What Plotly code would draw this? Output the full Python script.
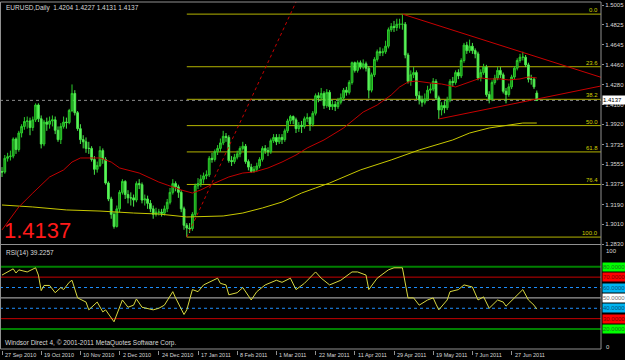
import plotly.graph_objects as go

W, H = 625, 360

# ---------------- data ----------------
opens = [
1.3490, 1.3485, 1.3610, 1.3625, 1.3630, 1.3785, 1.3690, 1.3840, 1.3900, 1.3945,
1.3950, 1.3890, 1.3960, 1.4095, 1.3970, 1.3740, 1.3940, 1.3920, 1.3950, 1.3960,
1.3865, 1.3780, 1.3900, 1.3940, 1.3935, 1.4045, 1.4200, 1.4025, 1.3880, 1.3780,
1.3760, 1.3700, 1.3700, 1.3600, 1.3510, 1.3545, 1.3680, 1.3600, 1.3385, 1.3240,
1.3100, 1.2990, 1.3150, 1.3300, 1.3400, 1.3280, 1.3250, 1.3250, 1.3230, 1.3380,
1.3370, 1.3230, 1.3240, 1.3200, 1.3150, 1.3100, 1.3120, 1.3120, 1.3110, 1.3150,
1.3210, 1.3300, 1.3380, 1.3350, 1.3300, 1.3150, 1.3000, 1.2975, 1.2970, 1.3100,
1.3360, 1.3380, 1.3420, 1.3450, 1.3460, 1.3610, 1.3600, 1.3670, 1.3700, 1.3750,
1.3810, 1.3800, 1.3590, 1.3580, 1.3620, 1.3650, 1.3700, 1.3720, 1.3580, 1.3530,
1.3490, 1.3510, 1.3540, 1.3600, 1.3700, 1.3680, 1.3670, 1.3770, 1.3800, 1.3760,
1.3800, 1.3780, 1.3860, 1.3950, 1.3990, 1.3960, 1.3880, 1.3910, 1.3900, 1.3970,
1.3980, 1.3920, 1.4020, 1.4180, 1.4160, 1.4200, 1.4090, 1.4210, 1.4080, 1.4100,
1.4080, 1.4120, 1.4160, 1.4230, 1.4210, 1.4300, 1.4480, 1.4410, 1.4480, 1.4440,
1.4470, 1.4430, 1.4230, 1.4370, 1.4510, 1.4580, 1.4570, 1.4580, 1.4630, 1.4780,
1.4810, 1.4800, 1.4830, 1.4830, 1.4830, 1.4550, 1.4310, 1.4370, 1.4390, 1.4180,
1.4140, 1.4120, 1.4150, 1.4230, 1.4240, 1.4310, 1.4160, 1.4050, 1.4090, 1.4070,
1.4140, 1.4310, 1.4300, 1.4390, 1.4360, 1.4500, 1.4640, 1.4590, 1.4630, 1.4590,
1.4560, 1.4340, 1.4390, 1.4440, 1.4190, 1.4150, 1.4300, 1.4340, 1.4410, 1.4370,
1.4220, 1.4190, 1.4260, 1.4350, 1.4430, 1.4500, 1.4530, 1.4530, 1.4460, 1.4330,
1.4330, 1.4204]

highs = [
1.3530, 1.3640, 1.3660, 1.3680, 1.3800, 1.3800, 1.3860, 1.3920, 1.3985, 1.3990,
1.3980, 1.3990, 1.4110, 1.4110, 1.4000, 1.3960, 1.3980, 1.3990, 1.4000, 1.3990,
1.3900, 1.3930, 1.3990, 1.3980, 1.4060, 1.4282, 1.4230, 1.4040, 1.3920, 1.3820,
1.3800, 1.3760, 1.3720, 1.3630, 1.3580, 1.3720, 1.3700, 1.3620, 1.3400, 1.3260,
1.3120, 1.3180, 1.3320, 1.3420, 1.3410, 1.3320, 1.3300, 1.3280, 1.3400, 1.3420,
1.3390, 1.3280, 1.3270, 1.3230, 1.3180, 1.3160, 1.3150, 1.3150, 1.3180, 1.3240,
1.3340, 1.3420, 1.3400, 1.3370, 1.3320, 1.3170, 1.3020, 1.3020, 1.3120, 1.3380,
1.3430, 1.3460, 1.3480, 1.3500, 1.3630, 1.3660, 1.3690, 1.3730, 1.3790, 1.3860,
1.3840, 1.3820, 1.3630, 1.3650, 1.3680, 1.3720, 1.3760, 1.3740, 1.3600, 1.3560,
1.3540, 1.3570, 1.3620, 1.3720, 1.3730, 1.3710, 1.3790, 1.3830, 1.3830, 1.3830,
1.3830, 1.3880, 1.3970, 1.4005, 1.4000, 1.3980, 1.3940, 1.3950, 1.3990, 1.4020,
1.3990, 1.4040, 1.4200, 1.4210, 1.4250, 1.4220, 1.4240, 1.4230, 1.4140, 1.4130,
1.4160, 1.4200, 1.4250, 1.4260, 1.4320, 1.4490, 1.4490, 1.4500, 1.4500, 1.4510,
1.4490, 1.4450, 1.4390, 1.4530, 1.4600, 1.4620, 1.4610, 1.4680, 1.4800, 1.4840,
1.4860, 1.4880, 1.4880, 1.4922, 1.4850, 1.4570, 1.4410, 1.4440, 1.4410, 1.4220,
1.4180, 1.4200, 1.4270, 1.4290, 1.4340, 1.4330, 1.4180, 1.4120, 1.4130, 1.4170,
1.4330, 1.4350, 1.4410, 1.4420, 1.4520, 1.4660, 1.4670, 1.4690, 1.4660, 1.4610,
1.4580, 1.4420, 1.4470, 1.4460, 1.4220, 1.4320, 1.4370, 1.4440, 1.4440, 1.4390,
1.4250, 1.4290, 1.4370, 1.4450, 1.4520, 1.4560, 1.4580, 1.4550, 1.4480, 1.4370,
1.4350, 1.4227]

lows = [
1.3440, 1.3470, 1.3580, 1.3590, 1.3610, 1.3650, 1.3670, 1.3800, 1.3870, 1.3880,
1.3820, 1.3860, 1.3940, 1.3940, 1.3700, 1.3720, 1.3860, 1.3880, 1.3900, 1.3830,
1.3760, 1.3740, 1.3880, 1.3880, 1.3920, 1.4030, 1.4000, 1.3860, 1.3740, 1.3700,
1.3660, 1.3650, 1.3580, 1.3460, 1.3480, 1.3530, 1.3560, 1.3370, 1.3220, 1.3060,
1.2970, 1.2980, 1.3120, 1.3280, 1.3240, 1.3200, 1.3180, 1.3170, 1.3210, 1.3330,
1.3200, 1.3180, 1.3150, 1.3120, 1.3060, 1.3080, 1.3090, 1.3080, 1.3090, 1.3120,
1.3190, 1.3280, 1.3310, 1.3250, 1.3120, 1.2960, 1.2893, 1.2930, 1.2950, 1.3080,
1.3330, 1.3350, 1.3380, 1.3420, 1.3440, 1.3570, 1.3580, 1.3640, 1.3670, 1.3730,
1.3760, 1.3570, 1.3540, 1.3560, 1.3600, 1.3620, 1.3680, 1.3560, 1.3500, 1.3476,
1.3480, 1.3490, 1.3520, 1.3580, 1.3650, 1.3630, 1.3650, 1.3750, 1.3730, 1.3740,
1.3740, 1.3760, 1.3840, 1.3920, 1.3920, 1.3840, 1.3850, 1.3840, 1.3880, 1.3940,
1.3860, 1.3900, 1.4000, 1.4120, 1.4130, 1.4060, 1.4070, 1.4050, 1.4050, 1.4040,
1.4060, 1.4100, 1.4140, 1.4180, 1.4190, 1.4280, 1.4390, 1.4390, 1.4420, 1.4420,
1.4400, 1.4155, 1.4210, 1.4350, 1.4490, 1.4540, 1.4540, 1.4560, 1.4610, 1.4760,
1.4760, 1.4770, 1.4790, 1.4780, 1.4520, 1.4290, 1.4270, 1.4340, 1.4150, 1.4100,
1.4080, 1.4100, 1.4130, 1.4200, 1.4220, 1.4140, 1.3968, 1.4000, 1.4020, 1.4050,
1.4120, 1.4260, 1.4280, 1.4330, 1.4340, 1.4480, 1.4560, 1.4570, 1.4560, 1.4520,
1.4320, 1.4310, 1.4370, 1.4170, 1.4110, 1.4130, 1.4280, 1.4320, 1.4340, 1.4200,
1.4110, 1.4170, 1.4240, 1.4330, 1.4410, 1.4480, 1.4500, 1.4440, 1.4300, 1.4280,
1.4240, 1.4131]

closes = [
1.3485, 1.3610, 1.3625, 1.3630, 1.3785, 1.3690, 1.3840, 1.3900, 1.3945, 1.3950,
1.3890, 1.3960, 1.4095, 1.3970, 1.3740, 1.3940, 1.3920, 1.3950, 1.3960, 1.3865,
1.3780, 1.3900, 1.3940, 1.3935, 1.4045, 1.4200, 1.4025, 1.3880, 1.3780, 1.3760,
1.3700, 1.3700, 1.3600, 1.3510, 1.3545, 1.3680, 1.3600, 1.3385, 1.3240, 1.3100,
1.2990, 1.3150, 1.3300, 1.3400, 1.3280, 1.3250, 1.3250, 1.3230, 1.3380, 1.3370,
1.3230, 1.3240, 1.3200, 1.3150, 1.3100, 1.3120, 1.3120, 1.3110, 1.3150, 1.3210,
1.3300, 1.3380, 1.3350, 1.3300, 1.3150, 1.3000, 1.2975, 1.2970, 1.3100, 1.3360,
1.3380, 1.3420, 1.3450, 1.3460, 1.3610, 1.3600, 1.3670, 1.3700, 1.3750, 1.3810,
1.3800, 1.3590, 1.3580, 1.3620, 1.3650, 1.3700, 1.3720, 1.3580, 1.3530, 1.3490,
1.3510, 1.3540, 1.3600, 1.3700, 1.3680, 1.3670, 1.3770, 1.3800, 1.3760, 1.3800,
1.3780, 1.3860, 1.3950, 1.3990, 1.3960, 1.3880, 1.3910, 1.3900, 1.3970, 1.3980,
1.3920, 1.4020, 1.4180, 1.4160, 1.4200, 1.4090, 1.4210, 1.4080, 1.4100, 1.4080,
1.4120, 1.4160, 1.4230, 1.4210, 1.4300, 1.4480, 1.4410, 1.4480, 1.4440, 1.4470,
1.4430, 1.4230, 1.4370, 1.4510, 1.4580, 1.4570, 1.4580, 1.4630, 1.4780, 1.4810,
1.4800, 1.4830, 1.4830, 1.4830, 1.4550, 1.4310, 1.4370, 1.4390, 1.4180, 1.4140,
1.4120, 1.4150, 1.4230, 1.4240, 1.4310, 1.4160, 1.4050, 1.4090, 1.4070, 1.4140,
1.4310, 1.4300, 1.4390, 1.4360, 1.4500, 1.4640, 1.4590, 1.4630, 1.4590, 1.4560,
1.4340, 1.4390, 1.4440, 1.4190, 1.4150, 1.4300, 1.4340, 1.4410, 1.4370, 1.4220,
1.4190, 1.4260, 1.4350, 1.4430, 1.4500, 1.4530, 1.4530, 1.4460, 1.4330, 1.4330,
1.4260, 1.4137]

bars = list(range(len(closes)))

# moving averages (read at sample bars)
ma_red_bar = [0, 6, 11, 17, 22, 25, 28, 31, 35, 39, 42, 49, 56, 59, 64, 68, 71, 76, 81, 86,
              90, 95, 100, 105, 109, 115, 122, 129, 134, 139, 142, 145, 148, 153, 157, 162,
              167, 171, 174, 178, 181, 185, 188, 191]
ma_red = [1.2958, 1.3167, 1.3294, 1.3440, 1.3504, 1.3576, 1.3613, 1.3613, 1.3613, 1.3576,
          1.3522, 1.3476, 1.3394, 1.3367, 1.3322, 1.3294, 1.3322, 1.3385, 1.3440, 1.3476,
          1.3485, 1.3522, 1.3576, 1.3640, 1.3704, 1.3777, 1.3886, 1.4031, 1.4095, 1.4186,
          1.4259, 1.4304, 1.4313, 1.4295, 1.4286, 1.4259, 1.4304, 1.4341, 1.4332, 1.4332,
          1.4323, 1.4332, 1.4350, 1.4341]
ma_yel_bar = [0, 11, 23, 35, 47, 56, 66, 79, 86, 93, 100, 107, 112, 117, 128, 139, 149,
              161, 167, 174, 186, 191]
ma_yel = [1.3185, 1.3167, 1.3140, 1.3130, 1.3112, 1.3103, 1.3076, 1.3085, 1.3112, 1.3158,
          1.3212, 1.3294, 1.3340, 1.3385, 1.3504, 1.3595, 1.3686, 1.3777, 1.3840, 1.3886,
          1.3931, 1.3931]

# RSI(14) readings
rsi_bar = [0, 4, 5, 6, 9, 11, 12, 13, 14, 15, 17, 19, 21, 22, 24, 25, 26, 27, 30, 31,
           34, 36, 37, 40, 43, 45, 47, 48, 50, 54, 56, 58, 61, 62, 65, 66, 68, 70, 72, 74,
           77, 78, 80, 81, 84, 86, 89, 91, 94, 98, 100, 103, 105, 108, 112, 114, 117, 121, 125, 127,
           130, 131, 134, 138, 140, 143, 144, 145, 147, 149, 152, 154, 155, 156, 159, 160, 163, 165, 168, 170,
           172, 174, 177, 179, 180, 183, 185, 186, 188, 190, 191]
rsi = [72, 78, 74, 77, 75, 78, 79, 72, 57, 62, 62, 55, 60, 58, 65, 67, 58, 50, 46, 38.5,
       46, 36.5, 38.5, 27, 48, 41, 43, 49, 41, 38.5, 40, 43, 56, 50, 34, 38.5, 58, 56, 62.5, 65,
       69, 64, 62.5, 53, 55, 60, 48, 56, 62.5, 67, 65, 69, 58, 64, 75, 69, 62.5, 67, 75, 75,
       72, 58, 69, 77, 79, 79, 64, 50, 50, 43, 48, 50, 44, 38.5, 48, 56, 58, 62.5, 60.5, 48,
       51, 40, 48, 46, 42, 50, 56, 58, 48, 43, 39.2257]

date_labels = ["27 Sep 2010", "19 Oct 2010", "10 Nov 2010", "2 Dec 2010", "24 Dec 2010",
               "17 Jan 2011", "8 Feb 2011", "1 Mar 2011", "22 Mar 2011", "11 Apr 2011",
               "29 Apr 2011", "19 May 2011", "7 Jun 2011", "27 Jun 2011"]
date_label_bar = [0, 14, 28, 42, 56, 70, 84, 98, 112, 126, 140, 154, 168, 182]

price_ticks = [1.5005, 1.4825, 1.4645, 1.4460, 1.4280, 1.4100, 1.3920, 1.3735, 1.3555,
               1.3375, 1.3190, 1.3010, 1.2830]

fib_low_bar, fib_low = 66, 1.2893
fib_high_bar, fib_high = 143, 1.4922
fib_ratios = [0.0, 0.236, 0.382, 0.5, 0.618, 0.764, 1.0]
fib_texts = ["0.0", "23.6", "38.2", "50.0", "61.8", "76.4", "100.0"]

X0, X1 = -0.714, 213.93
tl_upper_x, tl_upper_y = [143, X1], [1.4922, 1.4347]
tl_lower_x, tl_lower_y = [156, X1], [1.3968, 1.4268]
tl_rise_x, tl_rise_y = [66, 105], [1.2893, 1.5032]

rsi_levels = [80, 70, 60, 50, 40, 30, 20]
rsi_level_colors = ["#008000", "#c80000", "#1e90ff", "#c0c0c0", "#1e90ff", "#c80000", "#008000"]
rsi_level_box = ["#00ff00", "#ff0000", "#00b4f0", "#ffffff", "#00b4f0", "#ff0000", "#00ff00"]
rsi_level_txt = ["#1a7a1a", "#7a0000", "#00507a", "#707070", "#00507a", "#7a0000", "#1a7a1a"]
rsi_axis_labels = ["100", "0"]
rsi_axis_vals = [95, 3]

symbol_text = "EURUSD,Daily  1.4204 1.4227 1.4131 1.4137"
rsi_text = "RSI(14) 39.2257"
copyright_text = "Windsor Direct 4, \u00a9 2001-2011 MetaQuotes Software Corp."

# ---------------- figure ----------------
FONT = "Liberation Sans, Arial, sans-serif"
def px(xp):
    return xp / W
def py(yp):
    return 1 - yp / H

PLOT_R = 601
MAIN_TOP, MAIN_BOT = 2, 244.5
RSI_TOP, RSI_BOT = 246, 349.8
Y_MIN, Y_MAX = 1.28256, 1.50323
TXT = "#d8d8d8"

fig = go.Figure()

fig.add_trace(go.Candlestick(
    x=bars, open=opens, high=highs, low=lows, close=closes,
    increasing=dict(line=dict(color="#2ccd2c", width=1), fillcolor="#168a16"),
    decreasing=dict(line=dict(color="#4be84b", width=1), fillcolor="#62f862"),
    whiskerwidth=0, xaxis="x", yaxis="y", hoverinfo="skip", showlegend=False))

fig.add_trace(go.Scatter(x=ma_yel_bar, y=ma_yel, mode="lines",
                         line=dict(color="#c8c800", width=1), xaxis="x", yaxis="y",
                         hoverinfo="skip", showlegend=False))
fig.add_trace(go.Scatter(x=ma_red_bar, y=ma_red, mode="lines",
                         line=dict(color="#c00000", width=1), xaxis="x", yaxis="y",
                         hoverinfo="skip", showlegend=False))

for tx, ty, dash in [(tl_upper_x, tl_upper_y, "solid"), (tl_lower_x, tl_lower_y, "solid"),
                     (tl_rise_x, tl_rise_y, "dot")]:
    fig.add_trace(go.Scatter(x=tx, y=ty, mode="lines",
                             line=dict(color="#c80000", width=1, dash=dash),
                             xaxis="x", yaxis="y", hoverinfo="skip", showlegend=False))

fig.add_trace(go.Scatter(x=rsi_bar, y=rsi, mode="lines",
                         line=dict(color="#d8d840", width=1), xaxis="x2", yaxis="y2",
                         hoverinfo="skip", showlegend=False))

shapes = []
annotations = []

# fibonacci levels
for r, t in zip(fib_ratios, fib_texts):
    lvl = fib_high - r * (fib_high - fib_low)
    shapes.append(dict(type="line", xref="x", yref="y", x0=fib_low_bar, x1=X1, y0=lvl, y1=lvl,
                       line=dict(color="#b4b400", width=1), layer="below"))
    annotations.append(dict(text=t, xref="paper", yref="y", x=px(600), y=lvl,
                            xanchor="right", yanchor="bottom", showarrow=False,
                            font=dict(family=FONT, size=6, color="#d0d000"), yshift=-1))

# bid line
shapes.append(dict(type="line", xref="x", yref="y", x0=X0, x1=X1, y0=closes[-1], y1=closes[-1],
                   line=dict(color="#8a8a8a", width=1, dash="dot"), layer="below"))

# rsi levels
for lv, c in zip(rsi_levels, rsi_level_colors):
    w = 2 if lv in (80, 20) else 1
    dash = "dot" if lv in (60, 40) else "solid"
    shapes.append(dict(type="line", xref="x2", yref="y2", x0=X0, x1=X1, y0=lv, y1=lv,
                       line=dict(color=c, width=w, dash=dash), layer="below"))

for lv, bc, tc in zip(rsi_levels, rsi_level_box, rsi_level_txt):
    annotations.append(dict(text="%.4f" % lv, xref="paper", yref="y2", x=px(PLOT_R + 1), y=lv,
                            xanchor="left", yanchor="middle", showarrow=False,
                            bgcolor=bc, borderpad=0, width=22, height=8, align="left",
                            font=dict(family=FONT, size=6, color=tc)))

for t, v in zip(rsi_axis_labels, rsi_axis_vals):
    annotations.append(dict(text=t, xref="paper", yref="y2", x=px(PLOT_R + 3), y=v,
                            xanchor="left", yanchor="middle", showarrow=False,
                            font=dict(family=FONT, size=6, color=TXT)))

# frames
gray = "#909090"
for (a, b, c, d) in [(0.5, MAIN_TOP, PLOT_R, MAIN_TOP), (0.5, MAIN_BOT, PLOT_R, MAIN_BOT),
                     (0.5, RSI_TOP - 1.5, PLOT_R, RSI_TOP - 1.5), (0.5, 349, PLOT_R, 349),
                     (0.5, MAIN_TOP, 0.5, 349), (PLOT_R, MAIN_TOP, PLOT_R, 349)]:
    shapes.append(dict(type="line", xref="paper", yref="paper", x0=px(a), x1=px(c),
                       y0=py(b), y1=py(d), line=dict(color=gray, width=1)))

# current price box
annotations.append(dict(text="%.4f" % closes[-1], xref="paper", yref="y", x=px(PLOT_R + 1),
                        y=closes[-1], xanchor="left", yanchor="middle", showarrow=False,
                        bgcolor="#ffffff", borderpad=0, width=22, height=8, align="left",
                        font=dict(family=FONT, size=6, color="#000000")))

# texts
annotations.append(dict(text=symbol_text, xref="paper", yref="paper", x=px(4), y=py(2.5),
                        xanchor="left", yanchor="top", showarrow=False,
                        font=dict(family=FONT, size=6.5, color=TXT)))
annotations.append(dict(text=rsi_text, xref="paper", yref="paper", x=px(4), y=py(246.5),
                        xanchor="left", yanchor="top", showarrow=False,
                        font=dict(family=FONT, size=6.5, color=TXT)))
annotations.append(dict(text=copyright_text, xref="paper", yref="paper", x=px(3), y=py(348.5),
                        xanchor="left", yanchor="bottom", showarrow=False,
                        font=dict(family=FONT, size=6.5, color=TXT)))
annotations.append(dict(text="%.4f" % closes[-1], xref="paper", yref="paper", x=px(2), y=py(245),
                        xanchor="left", yanchor="bottom", showarrow=False,
                        font=dict(family=FONT, size=22, color="#ff1a1a")))

for b, t in zip(date_label_bar, date_labels):
    annotations.append(dict(text=t, xref="x2", yref="paper", x=b, y=py(350), xshift=1,
                            xanchor="left", yanchor="top", showarrow=False,
                            font=dict(family=FONT, size=5.5, color=TXT)))

axis_common = dict(showgrid=False, zeroline=False, automargin=False)
fig.update_layout(
    width=W, height=H, margin=dict(l=0, r=0, t=0, b=0),
    paper_bgcolor="#000000", plot_bgcolor="#000000",
    showlegend=False, hovermode=False, boxgap=0.1,
    xaxis=dict(domain=[0, px(PLOT_R)], range=[X0, X1], anchor="y", showticklabels=False,
               ticks="", rangeslider=dict(visible=False), showline=False, **axis_common),
    yaxis=dict(domain=[py(MAIN_BOT), py(MAIN_TOP)], range=[Y_MIN, Y_MAX], side="right",
               anchor="x", tickvals=price_ticks, ticktext=["%.4f" % v for v in price_ticks],
               ticks="outside", ticklen=2, tickcolor=gray, showline=False,
               tickfont=dict(family=FONT, size=6, color=TXT), **axis_common),
    xaxis2=dict(domain=[0, px(PLOT_R)], range=[X0, X1], anchor="y2", showticklabels=False,
                tickvals=date_label_bar, ticks="outside", ticklen=4, tickcolor=gray,
                showline=False, **axis_common),
    yaxis2=dict(domain=[py(RSI_BOT), py(RSI_TOP)], range=[0, 100], side="right", anchor="x2",
                showticklabels=False, ticks="", showline=False, **axis_common),
    shapes=shapes, annotations=annotations,
)

fig.write_html("out.html")
